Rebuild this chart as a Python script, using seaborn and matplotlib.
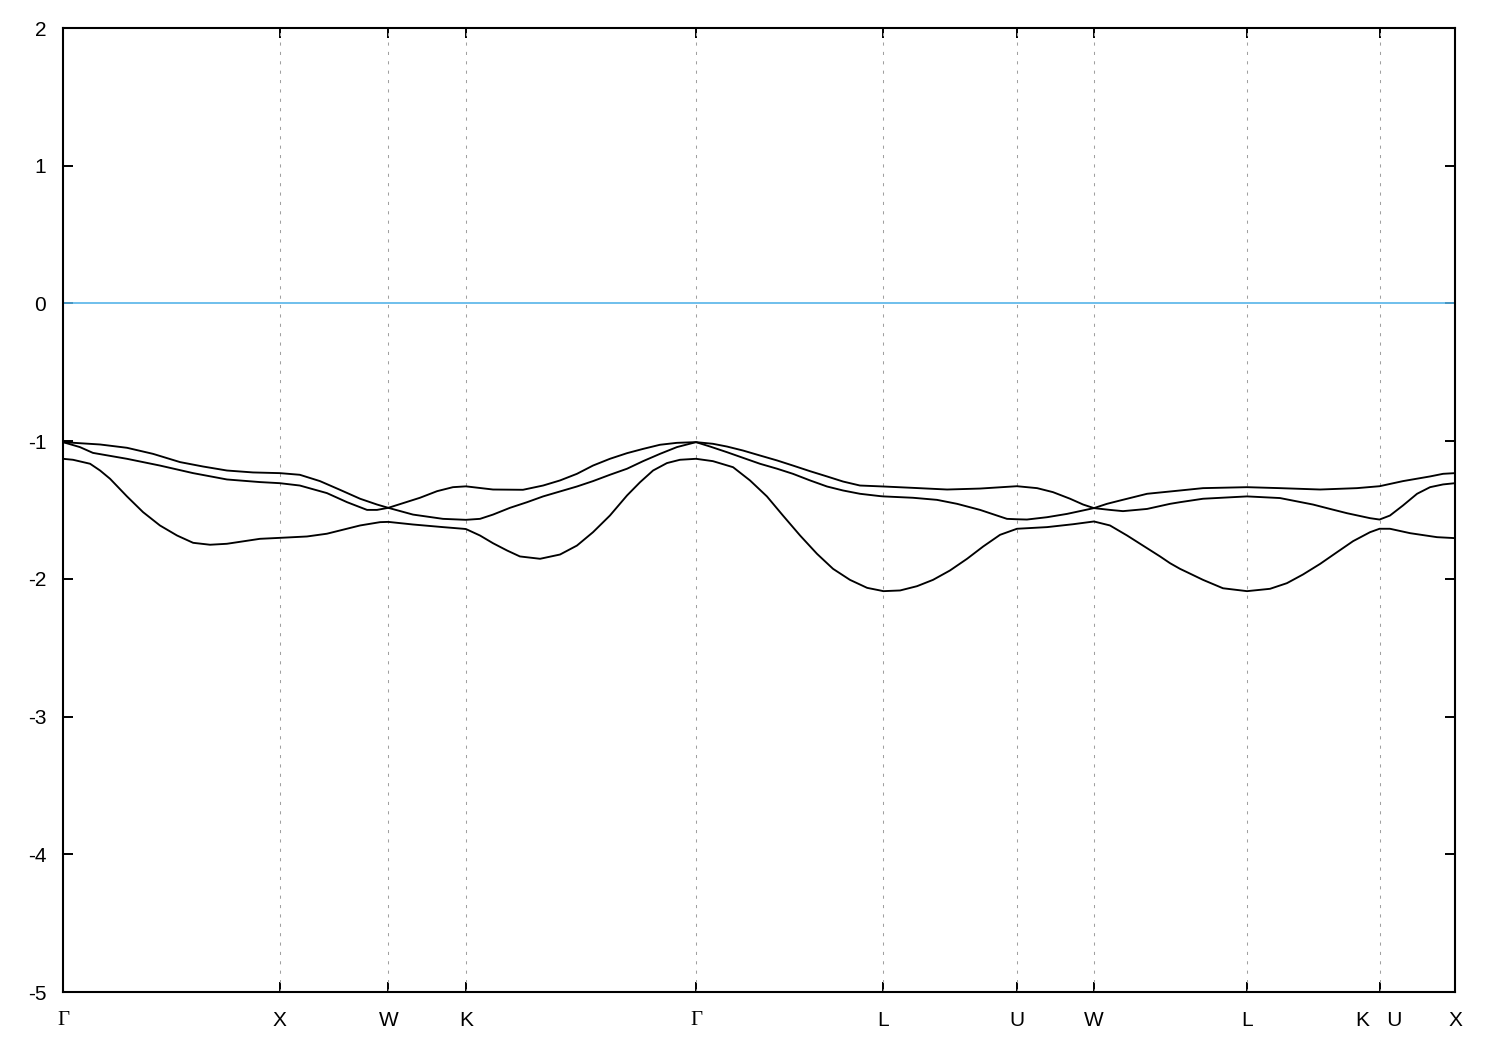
import numpy as np
import pandas as pd
import matplotlib
matplotlib.use("Agg")
import matplotlib.pyplot as plt
import seaborn as sns

# ---- data (k in 2pi/a, energies in eV) ----
k_low = [0.000, 0.046, 0.125, 0.171, 0.217, 0.295, 0.369, 0.447, 0.526, 0.600,
         0.678, 0.756, 0.908, 1.000, 1.125, 1.217, 1.370, 1.462, 1.500, 1.614,
         1.752, 1.845, 1.858, 1.923, 1.983, 2.048, 2.107, 2.200, 2.292, 2.370,
         2.444, 2.522, 2.601, 2.661, 2.721, 2.785, 2.845, 2.919, 2.997, 3.090,
         3.168, 3.246, 3.320, 3.399, 3.477, 3.551, 3.629, 3.708, 3.768, 3.783,
         3.860, 3.938, 4.012, 4.090, 4.169, 4.243, 4.321, 4.399, 4.538, 4.658,
         4.754, 4.828, 4.907, 4.980, 5.059, 5.105, 5.151, 5.183, 5.257, 5.349,
         5.460, 5.566, 5.644, 5.718, 5.797, 5.875, 5.949, 6.027, 6.071, 6.119,
         6.212, 6.336, 6.419]
e_low = [-1.128, -1.135, -1.164, -1.213, -1.273, -1.401, -1.515, -1.612, -1.685, -1.738,
         -1.752, -1.745, -1.709, -1.702, -1.692, -1.672, -1.612, -1.588, -1.586, -1.605,
         -1.624, -1.636, -1.638, -1.685, -1.741, -1.794, -1.837, -1.854, -1.823, -1.758,
         -1.661, -1.540, -1.394, -1.298, -1.213, -1.159, -1.135, -1.128, -1.145, -1.189,
         -1.285, -1.401, -1.540, -1.685, -1.818, -1.927, -2.007, -2.065, -2.084, -2.089,
         -2.084, -2.053, -2.007, -1.939, -1.854, -1.765, -1.680, -1.636, -1.624, -1.603,
         -1.583, -1.612, -1.685, -1.758, -1.837, -1.886, -1.927, -1.951, -2.007, -2.068,
         -2.089, -2.072, -2.031, -1.968, -1.891, -1.806, -1.726, -1.661, -1.636, -1.636,
         -1.668, -1.697, -1.704]

k_mid = [0.000, 0.078, 0.138, 0.295, 0.447, 0.600, 0.756, 0.908, 1.000, 1.092,
         1.217, 1.310, 1.402, 1.448, 1.500, 1.614, 1.752, 1.858, 1.923, 1.983,
         2.061, 2.140, 2.214, 2.292, 2.370, 2.444, 2.522, 2.601, 2.675, 2.753,
         2.831, 2.919, 2.984, 3.062, 3.136, 3.214, 3.293, 3.366, 3.445, 3.523,
         3.597, 3.675, 3.768, 3.783, 3.920, 4.030, 4.123, 4.229, 4.307, 4.353,
         4.399, 4.445, 4.538, 4.630, 4.754, 4.828, 4.888, 4.999, 5.105, 5.151,
         5.257, 5.460, 5.612, 5.764, 5.843, 5.921, 6.027, 6.071, 6.119, 6.179,
         6.244, 6.304, 6.364, 6.419]
e_mid = [-1.007, -1.043, -1.085, -1.128, -1.177, -1.232, -1.278, -1.297, -1.305, -1.322,
         -1.377, -1.443, -1.499, -1.499, -1.484, -1.533, -1.564, -1.571, -1.564, -1.533,
         -1.484, -1.443, -1.401, -1.365, -1.329, -1.290, -1.244, -1.200, -1.145, -1.092,
         -1.043, -1.007, -1.039, -1.080, -1.121, -1.164, -1.200, -1.237, -1.285, -1.329,
         -1.358, -1.382, -1.399, -1.401, -1.411, -1.426, -1.455, -1.499, -1.540, -1.564,
         -1.567, -1.569, -1.552, -1.528, -1.486, -1.499, -1.508, -1.492, -1.455, -1.443,
         -1.418, -1.401, -1.413, -1.460, -1.492, -1.523, -1.559, -1.569, -1.540, -1.467,
         -1.382, -1.334, -1.314, -1.305]

k_top = [0.000, 0.171, 0.295, 0.415, 0.540, 0.646, 0.756, 0.876, 1.000, 1.092,
         1.185, 1.277, 1.370, 1.448, 1.500, 1.568, 1.646, 1.725, 1.798, 1.858,
         1.983, 2.121, 2.214, 2.292, 2.370, 2.444, 2.522, 2.601, 2.675, 2.753,
         2.831, 2.919, 2.997, 3.062, 3.136, 3.214, 3.293, 3.366, 3.445, 3.523,
         3.597, 3.675, 3.783, 3.920, 4.077, 4.229, 4.399, 4.492, 4.565, 4.644,
         4.704, 4.754, 4.814, 4.874, 4.999, 5.151, 5.257, 5.460, 5.612, 5.797,
         5.967, 6.071, 6.179, 6.304, 6.364, 6.419]
e_top = [-1.007, -1.024, -1.048, -1.092, -1.152, -1.184, -1.213, -1.227, -1.232, -1.244,
         -1.290, -1.353, -1.418, -1.460, -1.484, -1.450, -1.411, -1.363, -1.334, -1.328,
         -1.351, -1.353, -1.322, -1.285, -1.237, -1.177, -1.128, -1.087, -1.056, -1.026,
         -1.012, -1.007, -1.019, -1.039, -1.068, -1.104, -1.140, -1.177, -1.218, -1.256,
         -1.293, -1.322, -1.329, -1.339, -1.351, -1.344, -1.327, -1.341, -1.370, -1.418,
         -1.460, -1.486, -1.455, -1.431, -1.382, -1.358, -1.341, -1.334, -1.341, -1.351,
         -1.341, -1.327, -1.290, -1.256, -1.237, -1.232]

# high-symmetry points along the path
sym_pos = [0.0, 1.0, 1.5, 1.858, 2.919, 3.783, 4.399, 4.754, 5.460, 6.071, 6.419]
sym_labels = ["Γ", "X", "W", "K", "Γ", "L", "U", "W", "L", "K   U", "X"]
y_ticks = [-5, -4, -3, -2, -1, 0, 1, 2]
fermi_level = 0.0

df = pd.concat([
    pd.DataFrame({"k": k_low, "E": e_low, "band": "b1"}),
    pd.DataFrame({"k": k_mid, "E": e_mid, "band": "b2"}),
    pd.DataFrame({"k": k_top, "E": e_top, "band": "b3"}),
])

sns.set_style("white")
plt.rcParams["font.family"] = ["Liberation Sans", "DejaVu Sans"]

fig = plt.figure(figsize=(15, 10.5), dpi=100)
ax = fig.add_axes([0.042, 0.0552, 0.928, 0.9181])

for xp in sym_pos[1:-1]:
    ax.axvline(xp, color="#a0a0a0", lw=0.75, ls=(0, (3, 6)), zorder=1)

ax.axhline(fermi_level, color="#56b4e9", lw=1.2, zorder=2)

sns.lineplot(data=df, x="k", y="E", units="band", estimator=None,
             color="black", lw=1.35, ax=ax, zorder=3, sort=False)

ax.set_xlim(sym_pos[0], sym_pos[-1])
ax.set_ylim(-5, 2)
ax.set_xlabel("")
ax.set_ylabel("")

ax.set_xticks(sym_pos)
ax.set_xticklabels(sym_labels)
for lab in ax.get_xticklabels():
    if lab.get_text() == "Γ":
        lab.set_family(["Liberation Serif", "DejaVu Serif"])
ax.set_yticks(y_ticks)
ax.set_yticklabels([str(v) for v in y_ticks])

ax.tick_params(axis="x", direction="in", length=7, width=1.4, top=True, bottom=True,
               labelsize=15, pad=14, colors="black")
ax.tick_params(axis="y", direction="in", length=7, width=1.4, left=True, right=True,
               labelsize=15, pad=12, colors="black")

for sp in ax.spines.values():
    sp.set_visible(True)
    sp.set_color("black")
    sp.set_linewidth(1.5)

ax.grid(False)
fig.savefig("out.png", dpi=100, facecolor="white")
